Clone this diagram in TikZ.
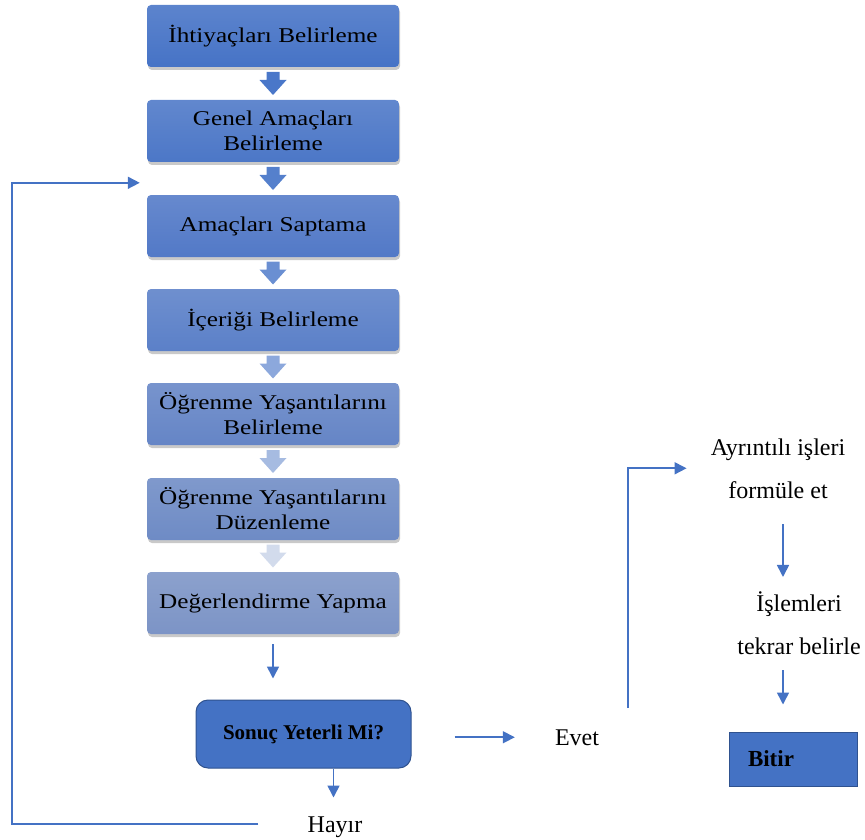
\documentclass[tikz,border=0pt]{standalone}
\usepackage{fontspec}
\setmainfont{Liberation Serif}
\newfontfamily\boxfont[FakeStretch=1.2]{Liberation Serif}
\usetikzlibrary{calc,shadows,arrows.meta}
\definecolor{lineblue}{HTML}{4472C4}
\definecolor{darkedge}{HTML}{2F528F}
\definecolor{bA}{HTML}{4673C6}
\definecolor{bB}{HTML}{4C77C7}
\definecolor{bC}{HTML}{5279C7}
\definecolor{bD}{HTML}{5B80C8}
\definecolor{bE}{HTML}{6585C6}
\definecolor{bF}{HTML}{6E8BC5}
\definecolor{bG}{HTML}{7C94C6}
\definecolor{aA}{HTML}{4A77C9}
\definecolor{aB}{HTML}{5580CC}
\definecolor{aC}{HTML}{6A8FD2}
\definecolor{aD}{HTML}{8CA8DC}
\definecolor{aE}{HTML}{A6BBE1}
\definecolor{aF}{HTML}{D2DBEC}
\newcommand\blkarrow[3]{\fill[#3] ($(#1.south)!.5!(#2.north)$) ++(-6.5,-11.5) -- ++(13,0) -- ++(0,8) -- ++(7,0) -- ++(-13.5,15) -- ++(-13.5,-15) -- ++(7,0) -- cycle;}
\begin{document}
\begin{tikzpicture}[x=1pt,y=-1pt,
  stepbox/.style={rectangle, rounded corners=4pt, minimum width=252, minimum height=62,
    inner sep=2pt, align=center, font=\boxfont\fontsize{21}{25}\selectfont,
    top color=#1!88!white, bottom color=#1,
    drop shadow={shadow xshift=1pt, shadow yshift=-3pt, opacity=0.3, fill=black!70}},
  plaintext/.style={inner sep=0pt, align=center, font=\fontsize{24}{43}\selectfont},
  arr/.style={draw=lineblue, line width=1.6pt, -{Triangle[width=12pt,length=12pt]}},
  ln/.style={draw=lineblue, line width=1.6pt}]
\useasboundingbox (0,0) rectangle (865,840);

\node[stepbox=bA] (b1) at (273,36) {İhtiyaçları Belirleme};
\node[stepbox=bB] (b2) at (273,131) {Genel Amaçları\\Belirleme};
\node[stepbox=bC] (b3) at (273,226) {Amaçları Saptama};
\node[stepbox=bD] (b4) at (273,320) {İçeriği Belirleme};
\node[stepbox=bE] (b5) at (273,414) {Öğrenme Yaşantılarını\\Belirleme};
\node[stepbox=bF] (b6) at (273,509) {Öğrenme Yaşantılarını\\Düzenleme};
\node[stepbox=bG] (b7) at (273,603) {Değerlendirme Yapma};

\blkarrow{b1}{b2}{aA}
\blkarrow{b2}{b3}{aB}
\blkarrow{b3}{b4}{aC}
\blkarrow{b4}{b5}{aD}
\blkarrow{b5}{b6}{aE}
\blkarrow{b6}{b7}{aF}

\node[rectangle, rounded corners=12pt, minimum width=215, minimum height=68,
  fill=lineblue, draw=darkedge, line width=1pt,
  font=\bfseries\fontsize{21}{25}\selectfont] (sonuc) at (303.5,734) {Sonuç Yeterli Mi?};

\node[plaintext, anchor=base] (hayir) at (335,832) {Hayır};
\node[plaintext, anchor=base] (evet) at (577,745) {Evet};
\node[plaintext, anchor=base] (ayr) at (778,498) {Ayrıntılı işleri\\formüle et};
\node[plaintext, anchor=base] (isl) at (799,654) {İşlemleri\\tekrar belirle};
\node[rectangle, fill=lineblue, draw=darkedge, line width=1pt, minimum height=54,
  text width=90, inner xsep=19pt, align=left,
  font=\bfseries\fontsize{23}{27}\selectfont] (bitir) at (793,759) {Bitir};

% connectors
\draw[arr] ([yshift=-10pt]b7.south) -- ([yshift=21pt]b7.south |- sonuc.north);
\draw[arr] ($(sonuc.south)+(30,0)$) -- ($(sonuc.south)+(30,29)$);

\coordinate (loopstart) at ($(hayir.west)+(-49,-3)$);
\coordinate (loopend) at ($(b3.north west)+(-7,-12)$);
\draw[arr] (loopstart) -| ([xshift=-128pt]loopend) -- (loopend);

\draw[arr] ([xshift=43pt]sonuc.east |- evet.west) -- ([xshift=-40pt]evet.west);

\coordinate (upstart) at ($(evet.north east)+(29,-21)$);
\draw[arr] (upstart) |- ([xshift=-24pt]ayr.west);

\draw[arr] ($(ayr.south)+(5,26)$) -- ($(ayr.south |- isl.north)+(5,-14)$);
\draw[arr] ($(isl.south)+(-16,16)$) -- ($(isl.south |- bitir.north)+(-16,-27)$);
\end{tikzpicture}
\end{document}
